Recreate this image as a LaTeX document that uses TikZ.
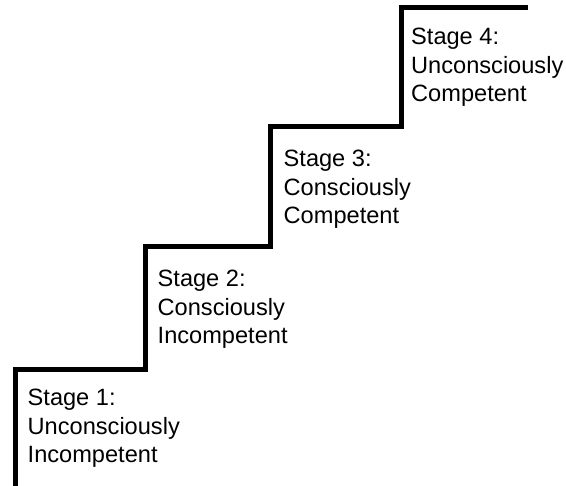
\documentclass[tikz,border=0pt]{standalone}
\usepackage{fontspec}
\setmainfont{Liberation Sans}
\begin{document}
\begin{tikzpicture}[x=1pt,y=-1pt,
  stairline/.style={line width=5pt,line join=miter,line cap=butt},
  stagelabel/.style={anchor=north west,inner sep=0pt,align=left,
    font=\fontsize{23.6}{28.5}\selectfont}]
\useasboundingbox (0,0) rectangle (566,486);
\coordinate (s0) at (15,486);
\coordinate (s1) at (15,370);
\coordinate (s2) at (145,370);
\coordinate (s3) at (145,247);
\coordinate (s4) at (270,247);
\coordinate (s5) at (270,127);
\coordinate (s6) at (401,127);
\coordinate (s7) at (401,8);
\coordinate (s8) at (528,8);
\draw[stairline] (s0) -- (s1) -- (s2) -- (s3) -- (s4) -- (s5) -- (s6) -- (s7) -- (s8);
\node[stagelabel] (st1) at (27.5,389) {Stage 1:\\Unconsciously\\Incompetent};
\node[stagelabel] (st2) at (157.5,270) {Stage 2:\\Consciously\\Incompetent};
\node[stagelabel] (st3) at (283.5,150) {Stage 3:\\Consciously\\Competent};
\node[stagelabel] (st4) at (411,28) {Stage 4:\\Unconsciously\\Competent};
\end{tikzpicture}
\end{document}
